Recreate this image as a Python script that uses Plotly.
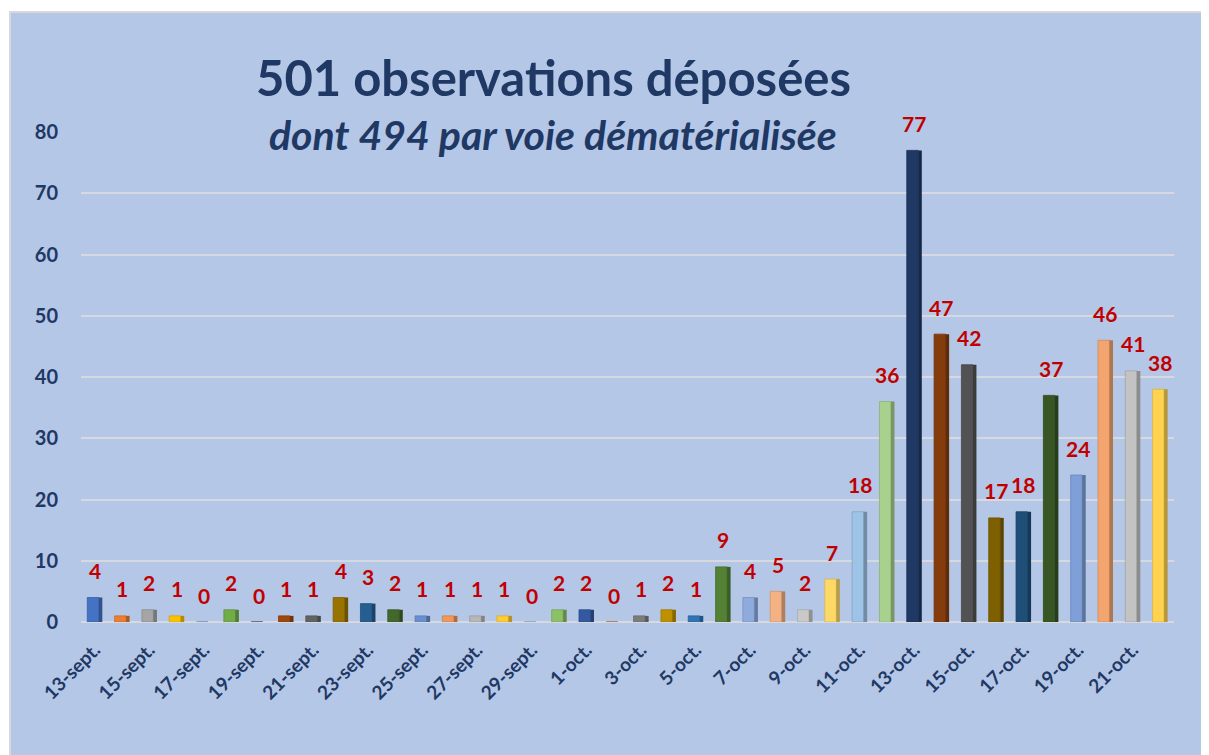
import plotly.graph_objects as go

categories = ["13-sept.", "14-sept.", "15-sept.", "16-sept.", "17-sept.", "18-sept.", "19-sept.",
              "20-sept.", "21-sept.", "22-sept.", "23-sept.", "24-sept.", "25-sept.", "26-sept.",
              "27-sept.", "28-sept.", "29-sept.", "30-sept.",
              "1-oct.", "2-oct.", "3-oct.", "4-oct.", "5-oct.", "6-oct.", "7-oct.", "8-oct.",
              "9-oct.", "10-oct.", "11-oct.", "12-oct.", "13-oct.", "14-oct.", "15-oct.", "16-oct.",
              "17-oct.", "18-oct.", "19-oct.", "20-oct.", "21-oct.", "22-oct."]
values = [4, 1, 2, 1, 0, 2, 0, 1, 1, 4, 3, 2, 1, 1, 1, 1, 0, 2,
          2, 0, 1, 2, 1, 9, 4, 5, 2, 7, 18, 36, 77, 47, 42, 17, 18, 37, 24, 46, 41, 38]
colors = ["#4472C4", "#ED7D31", "#A5A5A5", "#FFC000", "#5B9BD5", "#70AD47",
          "#264478", "#9E480E", "#636363", "#997300", "#255E91", "#43682B",
          "#698ED0", "#F1975A", "#B7B7B7", "#FFCD33", "#7CAFDD", "#8CC168",
          "#335AA1", "#C55A11", "#7C7C7C", "#BF9000", "#2E75B6", "#548235",
          "#8FAADC", "#F4B183", "#C9C9C9", "#FFD966", "#9DC3E6", "#A9D18E",
          "#1F3864", "#843C0C", "#525252", "#7F6000", "#1F4E79", "#375623",
          "#7F9FD8", "#F4A46E", "#C3C3C3", "#FFD34F"]
tick_labels = categories[::2]
yticks = [0, 10, 20, 30, 40, 50, 60, 70, 80]

title_text = "501 observations déposées"
subtitle_text = "dont 494 par voie dématérialisée"

navy = "#1F3864"
red = "#C00000"
FONT = "Lato"


def darker(hexc, f=0.7):
    r, g, b = int(hexc[1:3], 16), int(hexc[3:5], 16), int(hexc[5:7], 16)
    return "rgb(%d,%d,%d)" % (r * f, g * f, b * f)


fig = go.Figure()
# front face
fig.add_trace(go.Bar(
    x=categories, y=values,
    marker=dict(color=colors, line=dict(color=[darker(c, 0.85) for c in colors], width=0.8)),
    width=0.42, offset=-0.27,
    hoverinfo="x+y",
))
# darker side face (pseudo 3D)
fig.add_trace(go.Bar(
    x=categories, y=values,
    marker=dict(color=[darker(c, 0.72) for c in colors], line=dict(width=0)),
    width=0.13, offset=0.15,
    hoverinfo="skip",
))

for c, v in zip(categories, values):
    fig.add_annotation(x=c, y=v, text=str(v), showarrow=False, yanchor="middle", yshift=27,
                       font=dict(family=FONT, size=21, color=red, weight="bold"))

# page body has 8px margin: work in reference pixels minus 8
OFF = 8
W, H = 1209 - OFF, 755 - OFF
ml, mr = 81 - OFF, 35
mt, mb = 132 - OFF, 755 - 622
pw, ph = W - ml - mr, H - mt - mb


def px_x(x):
    return (x - OFF - ml) / pw


def px_y(y):
    return (H - mb - (y - OFF)) / ph


fig.add_shape(type="rect", xref="paper", yref="paper",
              x0=px_x(10), x1=px_x(1203), y0=px_y(770), y1=px_y(12),
              fillcolor="#B4C7E7", line=dict(color="#D9D9D9", width=2), layer="below")

fig.add_annotation(xref="paper", yref="paper", x=px_x(553), y=px_y(77), text=title_text,
                   showarrow=False, xanchor="center", yanchor="middle",
                   font=dict(family=FONT, size=49, color=navy, weight="bold"))
fig.add_annotation(xref="paper", yref="paper", x=px_x(553), y=px_y(134), text="<i>" + subtitle_text + "</i>",
                   showarrow=False, xanchor="center", yanchor="middle",
                   font=dict(family=FONT, size=41, color=navy, weight="bold"))

fig.update_layout(
    width=W, height=H,
    margin=dict(l=ml, r=mr, t=mt, b=mb),
    paper_bgcolor="white", plot_bgcolor="rgba(0,0,0,0)",
    showlegend=False, barmode="overlay",
    xaxis=dict(tickmode="array", tickvals=tick_labels, ticktext=tick_labels,
               tickangle=-45, showgrid=False, showline=False, ticks="",
               ticklabelstandoff=12,
               tickfont=dict(family=FONT, size=19, color=navy, weight="bold")),
    yaxis=dict(range=[0, 80], tickvals=yticks, showgrid=True, gridcolor="#D6DAE0", gridwidth=2,
               zeroline=True, zerolinecolor="#D6DAE0", zerolinewidth=2, showline=False,
               ticklabelstandoff=22,
               tickfont=dict(family=FONT, size=20, color=navy, weight="bold")),
)

fig.write_html("out.html")
